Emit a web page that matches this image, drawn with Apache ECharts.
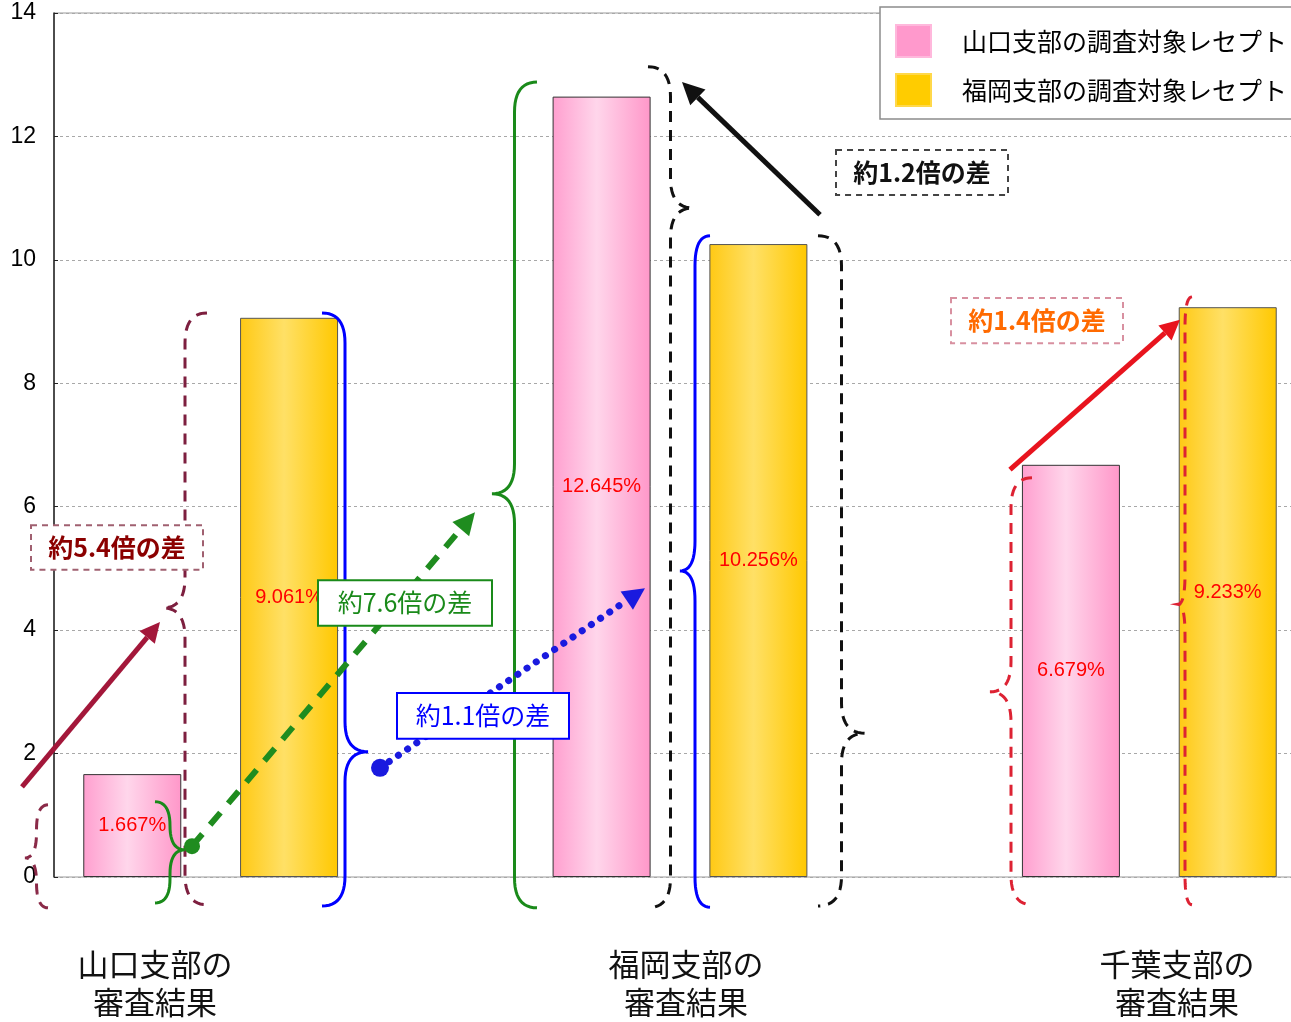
<!DOCTYPE html>
<html>
<head>
<meta charset="utf-8">
<script src="https://cdn.jsdelivr.net/npm/echarts@6/dist/echarts.min.js"></script>
<style>
html, body { margin: 0; padding: 0; background: #fff; }
#chart { width: 1291px; height: 1022px; }
</style>
</head>
<body>
<div id="chart"></div>
<script>
// data
const branches = ['山口支部の\n審査結果', '福岡支部の\n審査結果', '千葉支部の\n審査結果'];
const seriesNames = ['山口支部の調査対象レセプト', '福岡支部の調査対象レセプト'];
const yamaguchiRate = [1.667, 12.645, 6.679];
const fukuokaRate = [9.061, 10.256, 9.233];
const yMin = 0, yMax = 14, yStep = 2;

const JP = '"Noto Sans CJK JP", sans-serif';

const pinkFill = new echarts.graphic.LinearGradient(0, 0, 1, 0, [
  {offset: 0, color: '#ff9fcf'},
  {offset: 0.45, color: '#ffd6eb'},
  {offset: 1, color: '#ff97c9'}
]);
const goldFill = new echarts.graphic.LinearGradient(0, 0, 1, 0, [
  {offset: 0, color: '#ffc914'},
  {offset: 0.45, color: '#ffe066'},
  {offset: 1, color: '#ffc800'}
]);

const barLabel = {
  show: true,
  position: 'inside',
  color: '#ff0000',
  fontSize: 20,
  fontFamily: '"Liberation Sans", Arial, sans-serif',
  formatter: p => p.value.toFixed(3) + '%'
};

const option = {
  backgroundColor: '#fff',
  animation: false,
  grid: [
    {left: 54, top: 13, right: -10, bottom: 145, outerBoundsMode: 'none', show: true, borderColor: '#9a9a9a', borderWidth: 1},
    {left: -24, top: 13, width: 1408, bottom: 145, outerBoundsMode: 'none'}
  ],
  legend: {
    orient: 'vertical',
    left: 880, top: 7,
    padding: [17, 30, 12, 15],
    itemWidth: 35, itemHeight: 32, itemGap: 15,
    backgroundColor: '#fff',
    borderColor: '#8c8c8c', borderWidth: 1.5,
    textStyle: {fontSize: 25, color: '#000', fontFamily: JP, padding: [0, 0, 0, 26]},
    data: [
      {name: seriesNames[0], icon: 'rect', itemStyle: {color: '#ff99cc', borderColor: '#ffb8dc', borderWidth: 2}},
      {name: seriesNames[1], icon: 'rect', itemStyle: {color: '#ffcc00', borderColor: '#ffd84a', borderWidth: 2}}
    ],
    z: 20
  },
  xAxis: [
    {gridIndex: 0, type: 'value', show: false, min: 0, max: 1},
    {gridIndex: 1, type: 'category', data: branches, show: false}
  ],
  yAxis: [
    {
      gridIndex: 0, type: 'value', min: yMin, max: yMax, interval: yStep,
      axisLine: {show: true, lineStyle: {color: '#222', width: 1.5}},
      axisTick: {show: true, inside: true, length: 4, lineStyle: {color: '#222'}},
      axisLabel: {color: '#000', fontSize: 23, margin: 18, fontFamily: '"Liberation Sans", Arial, sans-serif'},
      splitLine: {show: true, lineStyle: {color: '#a8a8a8', type: [3, 3], width: 1}}
    },
    {gridIndex: 1, type: 'value', min: yMin, max: yMax, show: false}
  ],
  series: [
    {
      name: seriesNames[0], type: 'bar', xAxisIndex: 1, yAxisIndex: 1,
      data: yamaguchiRate, barWidth: 98, barGap: '60%',
      itemStyle: {color: pinkFill, borderColor: '#333', borderWidth: 1},
      label: barLabel, z: 3
    },
    {
      name: seriesNames[1], type: 'bar', xAxisIndex: 1, yAxisIndex: 1,
      data: fukuokaRate, barWidth: 98, barGap: '60%',
      itemStyle: {color: goldFill, borderColor: '#555', borderWidth: 1},
      label: barLabel, z: 3
    }
  ]
};

const chart = echarts.init(document.getElementById('chart'));
chart.setOption(option);

// annotations: x in pixels, heights in axis units
const py = v => chart.convertToPixel({yAxisIndex: 0}, v);

function bracePoints(xe, yt, yb, xt, ytip) {
  const xm = (xe + xt) / 2;
  const r = Math.min(30, (ytip - yt) / 2, (yb - ytip) / 2);
  const pts = [];
  const quad = (p0, c, p1) => {
    for (let i = 0; i <= 12; i++) {
      const t = i / 12, a = (1 - t) * (1 - t), b = 2 * (1 - t) * t, d = t * t;
      pts.push([a * p0[0] + b * c[0] + d * p1[0], a * p0[1] + b * c[1] + d * p1[1]]);
    }
  };
  quad([xe, yt], [xm, yt], [xm, yt + r]);
  quad([xm, ytip - r], [xm, ytip], [xt, ytip]);
  quad([xt, ytip], [xm, ytip], [xm, ytip + r]);
  quad([xm, yb - r], [xm, yb], [xe, yb]);
  return pts;
}

// [xEnd, top, bottom, xTip, tip, colour, dashed]
const braces = [
  [207, 9.14, -0.45, 163, 4.36, '#7d1f3f', true],
  [48, 1.17, -0.50, 25, 0.31, '#8a2a48', true],
  [155, 1.22, -0.42, 185, 0.44, '#1a8a1a', false],
  [537, 12.88, -0.50, 492, 6.21, '#1a8a1a', false],
  [322, 9.14, -0.47, 368, 2.03, '#0000ff', false],
  [710, 10.39, -0.49, 680, 4.96, '#0000ff', false],
  [648, 13.13, -0.50, 693, 10.84, '#111', true],
  [818, 10.39, -0.47, 865, 2.33, '#111', true],
  [1032, 6.47, -0.45, 990, 3.00, '#dd2233', true],
  [1192, 9.40, -0.45, 1178, 4.42, '#dd2233', true]
];

// [x1, v1, x2, v2, colour, width, dash, head, startDot]
const arrows = [
  [22, 1.46, 160, 4.13, '#a3173a', 5, null, 20, 0],
  [192, 0.50, 475, 5.91, '#1f8c1f', 6, [16, 12], 22, 8],
  [380, 1.77, 645, 4.68, '#1a1adf', 7, [0.1, 11], 22, 9],
  [820, 10.73, 682, 12.88, '#111', 5, null, 22, 0],
  [1010, 6.60, 1180, 9.03, '#e8141e', 5, null, 20, 0]
];

// [x, top, width, bottom, text, border, dash, textColour, bold]
const boxes = [
  [31, 5.70, 172, 4.98, '約5.4倍の差', '#a06070', [6, 5], '#8b0000', true],
  [318, 4.81, 174, 4.07, '約7.6倍の差', '#1a8a1a', null, '#1a8a1a', false],
  [397, 2.98, 172, 2.24, '約1.1倍の差', '#0000ff', null, '#0000ff', false],
  [836, 11.78, 172, 11.05, '約1.2倍の差', '#444', [6, 5], '#111', true],
  [951, 9.38, 172, 8.65, '約1.4倍の差', '#d890a0', [6, 5], '#ff6a00', true]
];

const els = [];
braces.forEach(([xe, t, b, xt, tip, color, dashed]) => {
  els.push({
    type: 'polyline', z: 100,
    shape: {points: bracePoints(xe, py(t), py(b), xt, py(tip))},
    style: {stroke: color, lineWidth: 3, fill: null, lineDash: dashed ? [11, 8] : null}
  });
});
arrows.forEach(([x1, v1, x2, v2, color, w, dash, head, dot]) => {
  const y1 = py(v1), y2 = py(v2);
  const ang = Math.atan2(y2 - y1, x2 - x1);
  const bx = x2 - head * Math.cos(ang), by = y2 - head * Math.sin(ang);
  const nx = -Math.sin(ang) * head * 0.5, ny = Math.cos(ang) * head * 0.5;
  els.push({
    type: 'line', z: 101,
    shape: {x1: x1, y1: y1, x2: bx, y2: by},
    style: {stroke: color, lineWidth: w, lineDash: dash, lineCap: dash && dash[0] < 1 ? 'round' : 'butt'}
  });
  els.push({
    type: 'polygon', z: 101,
    shape: {points: [[x2, y2], [bx + nx, by + ny], [bx - nx, by - ny]]},
    style: {fill: color}
  });
  if (dot) {
    els.push({type: 'circle', z: 101, shape: {cx: x1, cy: y1, r: dot}, style: {fill: color}});
  }
});
boxes.forEach(([x, t, w, b, text, border, dash, color, bold]) => {
  const yt = py(t), yb = py(b);
  els.push({
    type: 'rect', z: 102,
    shape: {x: x, y: yt, width: w, height: yb - yt},
    style: {fill: '#fff', stroke: border, lineWidth: 2, lineDash: dash}
  });
  els.push({
    type: 'text', z: 103,
    x: x + w / 2, y: (yt + yb) / 2,
    style: {
      text: text, fill: color,
      font: (bold ? 'bold ' : '') + '25px ' + JP,
      textAlign: 'center', textVerticalAlign: 'middle'
    }
  });
});
// category captions under the plot
const captionX = [155, 686, 1177];
branches.forEach((name, i) => {
  els.push({
    type: 'text', z: 100,
    x: captionX[i], y: 945,
    style: {text: name, fill: '#111', font: '31px ' + JP, lineHeight: 38, textAlign: 'center'}
  });
});

chart.setOption({graphic: {elements: els}});
</script>
</body>
</html>
